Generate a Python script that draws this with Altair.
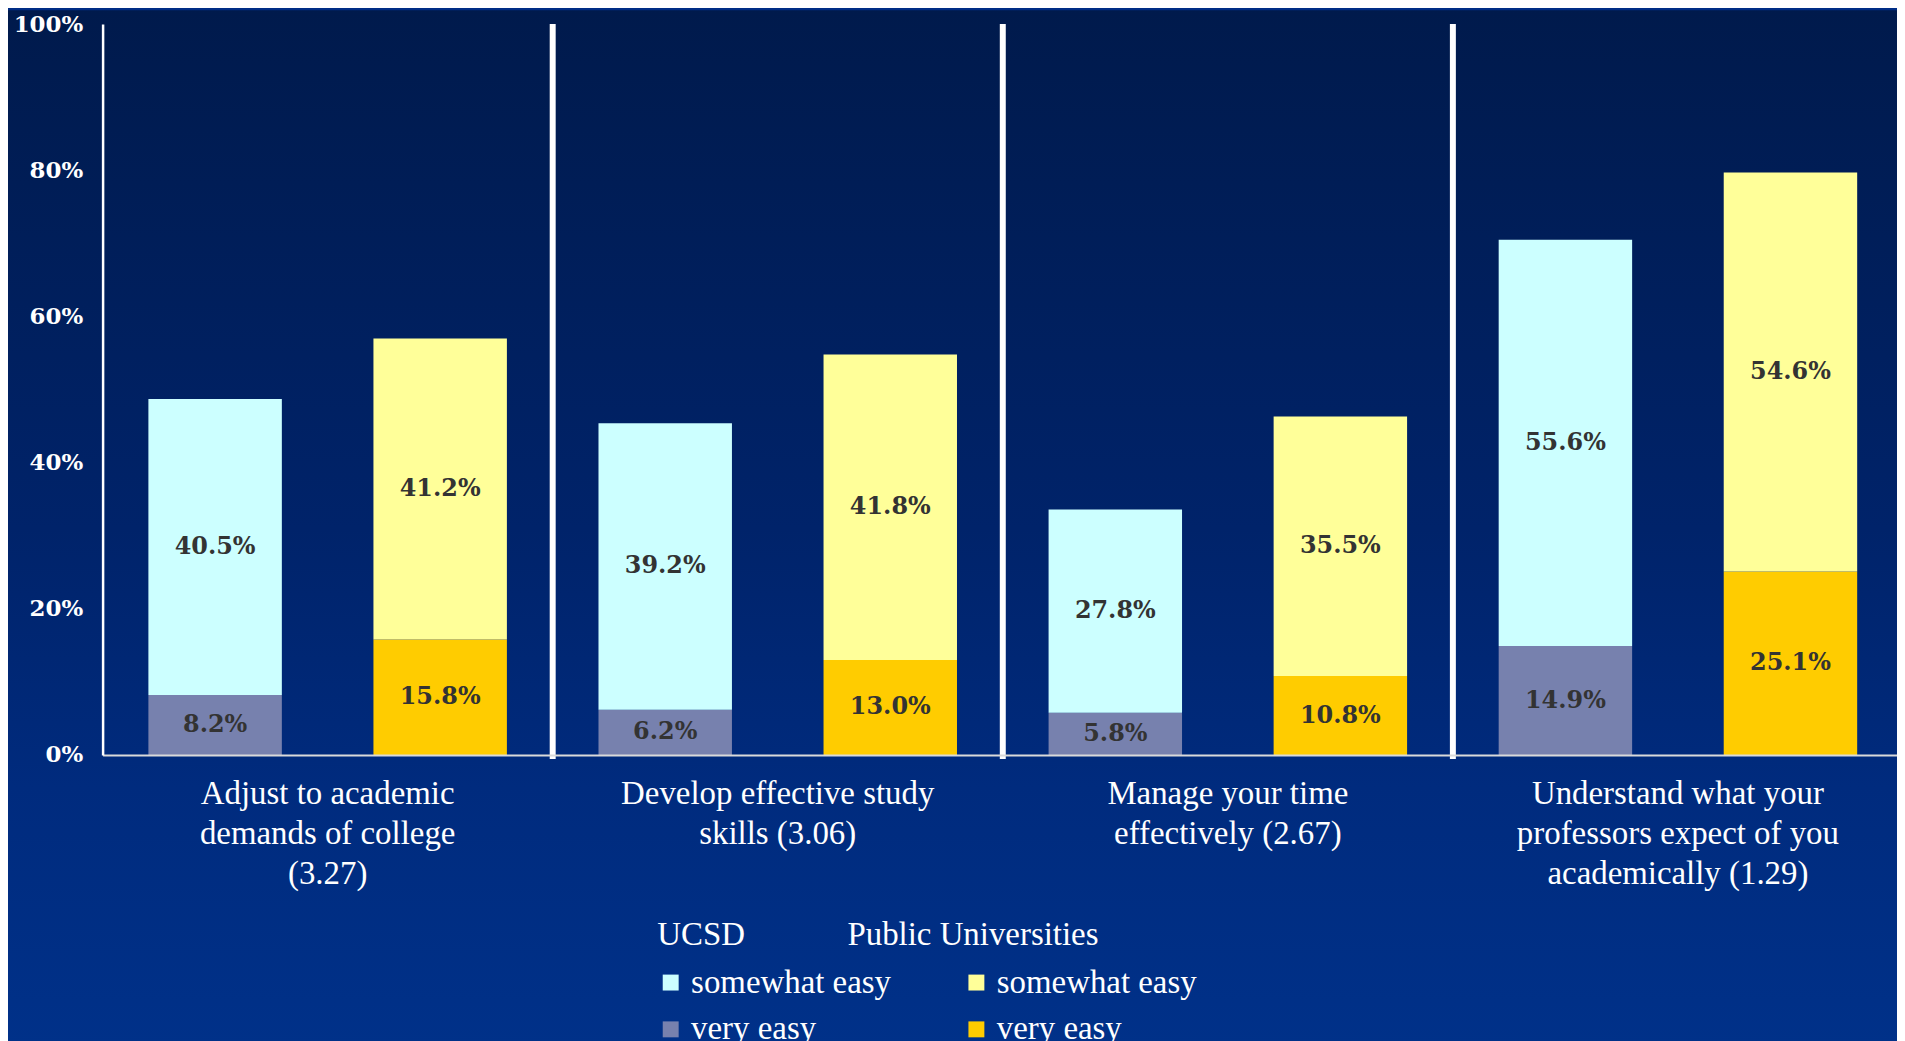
import altair as alt
import pandas as pd

# ---- data ----
categories = [
    "Adjust to academic|demands of college|(3.27)",
    "Develop effective study|skills (3.06)",
    "Manage your time|effectively (2.67)",
    "Understand what your|professors expect of you|academically (1.29)",
]
universities = ["UCSD", "Public Universities"]
levels = ["somewhat easy", "very easy"]

ucsd_very = [8.2, 6.2, 5.8, 14.9]
ucsd_somewhat = [40.5, 39.2, 27.8, 55.6]
pub_very = [15.8, 13.0, 10.8, 25.1]
pub_somewhat = [41.2, 41.8, 35.5, 54.6]

ucsd_colors = ["#CCFFFF", "#7781AE"]
pub_colors = ["#FFFF99", "#FFCC00"]

rows = []
for i, c in enumerate(categories):
    for u, very, some in [("UCSD", ucsd_very[i], ucsd_somewhat[i]),
                          ("Public Universities", pub_very[i], pub_somewhat[i])]:
        rows.append(dict(cat=c, univ=u, level="very easy", ord=0, value=very,
                         mid=very / 2, label=f"{very:.1f}%"))
        rows.append(dict(cat=c, univ=u, level="somewhat easy", ord=1, value=some,
                         mid=very + some / 2, label=f"{some:.1f}%"))
df = pd.DataFrame(rows)
df_u = df[df.univ == "UCSD"]
df_p = df[df.univ == "Public Universities"]
sep_df = pd.DataFrame({"cat": categories[1:]})

W, H = 1808, 734

x_axis = alt.Axis(title=None, labelExpr="split(datum.label, '|')", labelAngle=0,
                  labelFont="Liberation Serif", labelFontSize=33, labelColor="white",
                  labelLineHeight=40, labelBaseline="top", labelPadding=23,
                  ticks=False, domainColor="#DADADA", domainWidth=2,
                  labelLimit=600, labelOverlap=False, zindex=1)
y_axis = alt.Axis(title=None, values=[0, 20, 40, 60, 80, 100],
                  labelExpr="datum.value + '%'", ticks=False, grid=False,
                  domainColor="white", domainWidth=2.5, labelColor="white",
                  labelFont="DejaVu Serif", labelFontWeight="bold", labelFontSize=23,
                  labelPadding=20, zindex=1)
x_scale = alt.Scale(domain=categories, paddingInner=0, paddingOuter=0)
xo_scale = alt.Scale(domain=universities, paddingInner=0.407, paddingOuter=0.2035)
y_scale = alt.Scale(domain=[0, 100], nice=False)

x_enc = alt.X("cat:N", sort=categories, scale=x_scale, axis=x_axis)
xo_enc = alt.XOffset("univ:N", sort=universities, scale=xo_scale)


def legend(title, lx, soff):
    return alt.Legend(title=title, orient="none", legendX=lx, legendY=899,
                      direction="vertical", padding=0,
                      titleFont="Liberation Serif", titleFontSize=33,
                      titleFontWeight="normal", titleColor="white", titleLimit=600,
                      titlePadding=14,
                      labelFont="Liberation Serif", labelFontSize=33, labelColor="white",
                      labelLimit=600, labelOffset=4,
                      symbolType="square", symbolSize=256, symbolStrokeWidth=0,
                      symbolOpacity=1, symbolOffset=soff, rowPadding=13)


bg = alt.Chart(pd.DataFrame({"k": [0]})).mark_rect(
    fill=alt.Gradient(
        gradient="linear",
        stops=[alt.GradientStop(color="#001A4C", offset=0),
               alt.GradientStop(color="#00236A", offset=0.5),
               alt.GradientStop(color="#002B7E", offset=0.75),
               alt.GradientStop(color="#003189", offset=1)],
        x1=0, x2=0, y1=0, y2=1)
).encode(x=alt.value(-95), x2=alt.value(W), y=alt.value(-14), y2=alt.value(1027))

seps = alt.Chart(sep_df).mark_rule(color="white", strokeWidth=6).encode(
    x=alt.X("cat:N", sort=categories, scale=x_scale, axis=x_axis, bandPosition=0),
    y=alt.datum(100, scale=y_scale, axis=y_axis),
    y2=alt.value(H + 4),
)

bars_u = alt.Chart(df_u).mark_bar().encode(
    x=x_enc, xOffset=xo_enc,
    y=alt.Y("value:Q", stack="zero", scale=y_scale, axis=y_axis),
    color=alt.Color("level:N", scale=alt.Scale(domain=levels, range=ucsd_colors),
                    legend=legend("UCSD", 557, -3)),
    order=alt.Order("ord:Q"),
)
bars_p = alt.Chart(df_p).mark_bar().encode(
    x=x_enc, xOffset=xo_enc,
    y=alt.Y("value:Q", stack="zero", scale=y_scale, axis=y_axis),
    color=alt.Color("level:N", scale=alt.Scale(domain=levels, range=pub_colors),
                    legend=legend("Public Universities", 748, 113)),
    order=alt.Order("ord:Q"),
)
labels = alt.Chart(df).mark_text(font="DejaVu Serif", fontWeight="bold", fontSize=24,
                                 color="#333333", baseline="middle", align="center").encode(
    x=x_enc, xOffset=xo_enc,
    y=alt.Y("mid:Q", scale=y_scale, axis=y_axis),
    text="label:N",
)

chart = alt.layer(bg, seps, bars_u, bars_p, labels).resolve_scale(
    color="independent"
).properties(
    width=W, height=H,
    padding={"left": 95, "top": 14, "right": -6, "bottom": 285},
    autosize=alt.AutoSizeParams(type="none"),
).configure_view(stroke=None).configure(background="#002D86")

chart.save("out.html", embed_options={"renderer": "svg", "actions": False})
